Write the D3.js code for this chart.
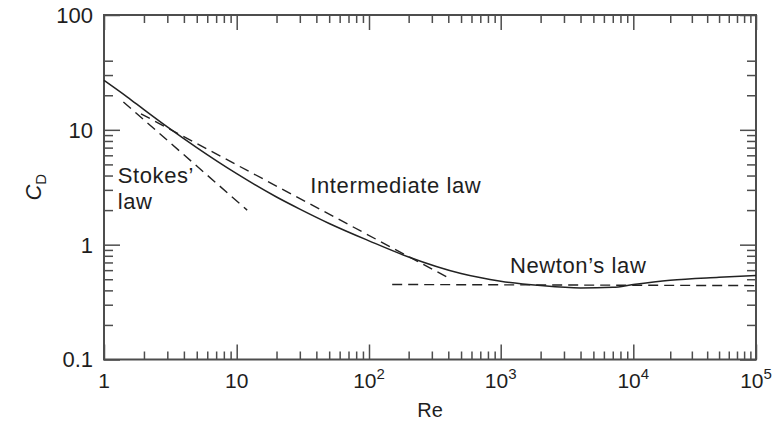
<!DOCTYPE html>
<html><head><meta charset="utf-8">
<script src="https://cdn.jsdelivr.net/npm/d3@7"></script>
<style>body{margin:0;background:#fff}svg{display:block}</style>
</head><body><svg id="c" width="773" height="425"></svg>
<script>
// ---- data ----
const dragRe = [1, 1.5, 2, 3, 5, 10, 20, 30, 50, 100, 200, 500, 1000, 2000, 4000, 7000, 10000, 20000, 50000, 100000];
const dragCd = [27, 19.3, 15.0, 10.6, 7.0, 4.15, 2.6, 2.04, 1.53, 1.08, 0.78, 0.56, 0.48, 0.44, 0.42, 0.425, 0.45, 0.49, 0.52, 0.54];
const stokesRe = [1.4, 12];
const stokesCd = [17.5, 2.0];
const intermRe = [1.9, 420];
const intermCd = [13.8, 0.5];
const newtonRe = [150, 100000];
const newtonCd = [0.45, 0.44];
const xMajorTicks = [1, 10, 100, 1000, 10000, 100000];
const xTickLabels = [["1", ""], ["10", ""], ["10", "2"], ["10", "3"], ["10", "4"], ["10", "5"]];
const yMajorTicks = [0.1, 1, 10, 100];
const yTickLabels = ["0.1", "1", "10", "100"];
const xMinorTicks = [1, 10, 100, 1000, 10000].flatMap(d => [2,3,4,5,6,7,8,9].map(m => d * m));
const yMinorTicks = [0.2,0.3,0.4,0.5,0.6,0.7,0.8,0.9, 2,3,4,5,6,7,8,9, 20,30,40];
const curveLabels = [
  {lines: ["Stokes’", "law"], re: 1.27, cd: 3.47},
  {lines: ["Intermediate law"], re: 36, cd: 2.8},
  {lines: ["Newton’s law"], re: 1175, cd: 0.564}
];

// ---- layout ----
const L = 104, R = 756, T = 15, B = 359.5;
const svg = d3.select("#c");
const x = d3.scaleLog().domain([1, 10, 100, 1000, 10000, 100000]).range([L, 236.7, 369, 500.7, 633.3, R]);
const y = d3.scaleLog().domain([0.1, 100]).range([B, T]);
const FONT = "'Liberation Sans', Arial, Helvetica, sans-serif";
const AX = "#4d4d4d";

// ticks via d3 axes (inward)
function styleAxis(g){ g.select(".domain").remove(); g.selectAll("line").attr("stroke", AX).attr("stroke-width", 1.5); g.selectAll("text").remove(); }
svg.append("g").attr("transform", `translate(0,${B})`).call(d3.axisBottom(x).tickValues(xMinorTicks).tickSize(-8).tickFormat("")).call(styleAxis);
svg.append("g").attr("transform", `translate(0,${B})`).call(d3.axisBottom(x).tickValues(xMajorTicks).tickSize(-15).tickFormat("")).call(styleAxis);
svg.append("g").attr("transform", `translate(0,${T})`).call(d3.axisTop(x).tickValues(xMinorTicks).tickSize(-8).tickFormat("")).call(styleAxis);
svg.append("g").attr("transform", `translate(0,${T})`).call(d3.axisTop(x).tickValues(xMajorTicks).tickSize(-15).tickFormat("")).call(styleAxis);
svg.append("g").attr("transform", `translate(${L},0)`).call(d3.axisLeft(y).tickValues(yMinorTicks).tickSize(-9).tickFormat("")).call(styleAxis);
svg.append("g").attr("transform", `translate(${L},0)`).call(d3.axisLeft(y).tickValues(yMajorTicks).tickSize(-16).tickFormat("")).call(styleAxis);
svg.append("g").attr("transform", `translate(${R},0)`).call(d3.axisRight(y).tickValues(yMinorTicks).tickSize(-9).tickFormat("")).call(styleAxis);
svg.append("g").attr("transform", `translate(${R},0)`).call(d3.axisRight(y).tickValues(yMajorTicks).tickSize(-16).tickFormat("")).call(styleAxis);

// frame
svg.append("rect").attr("x", L).attr("y", T).attr("width", R - L).attr("height", B - T)
  .attr("fill", "none").attr("stroke", AX).attr("stroke-width", 2);

// tick labels
const xl = svg.append("g").attr("font-family", FONT).attr("fill", "#1e1e1e");
xMajorTicks.forEach((v, i) => {
  const t = xl.append("text").attr("x", x(v)).attr("y", 388).attr("text-anchor", "middle").attr("font-size", 21);
  t.append("tspan").text(xTickLabels[i][0]);
  if (xTickLabels[i][1]) t.append("tspan").attr("font-size", 15).attr("dy", -9).text(xTickLabels[i][1]);
});
yMajorTicks.forEach((v, i) => {
  xl.append("text").attr("x", 93).attr("y", y(v)).attr("dy", "0.36em").attr("text-anchor", "end").attr("font-size", 22).text(yTickLabels[i]);
});

// axis titles
xl.append("text").attr("x", (L + R) / 2).attr("y", 417).attr("text-anchor", "middle").attr("font-size", 20).text("Re");
const yt = xl.append("text").attr("transform", `translate(41,${(T + B) / 2}) rotate(-90)`).attr("text-anchor", "middle").attr("font-size", 22);
yt.append("tspan").attr("font-style", "italic").text("C");
yt.append("tspan").attr("font-size", 15).attr("dy", 5).text("D");

// curves
const line = d3.line().x(d => x(d[0])).y(d => y(d[1]));
const plot = svg.append("g").attr("fill", "none");
plot.append("path").datum(dragRe.map((r, i) => [r, dragCd[i]])).attr("d", line.curve(d3.curveMonotoneX))
  .attr("stroke", "#222").attr("stroke-width", 1.5);
const dashed = [[stokesRe, stokesCd], [intermRe, intermCd], [newtonRe, newtonCd]];
const lineStraight = d3.line().x(d => x(d[0])).y(d => y(d[1]));
dashed.forEach(([rs, cs]) => {
  plot.append("path").datum(rs.map((r, i) => [r, cs[i]])).attr("d", lineStraight)
    .attr("stroke", "#222").attr("stroke-width", 1.4).attr("stroke-dasharray", "10,6");
});

// curve labels
curveLabels.forEach(c => {
  const t = xl.append("text").attr("x", x(c.re)).attr("y", y(c.cd)).attr("font-size", 22).attr("letter-spacing", 0.6);
  c.lines.forEach((s, i) => t.append("tspan").attr("x", x(c.re)).attr("dy", i ? 26 : 0).text(s));
});
</script></body></html>
